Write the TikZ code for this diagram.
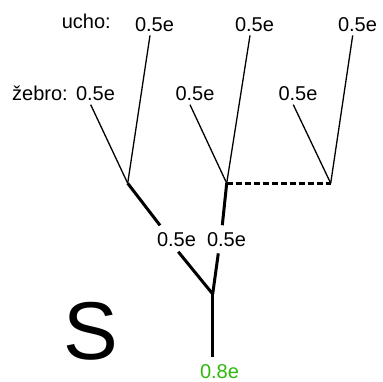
\documentclass[tikz,border=0pt]{standalone}
\usepackage{fontspec}
\setmainfont{Liberation Sans}
\definecolor{lgreen}{RGB}{45,185,10}
\begin{document}
\begin{tikzpicture}[x=1pt,y=-1pt,
  lbl/.style={inner sep=0pt,anchor=base,font=\fontsize{20}{24}\selectfont},
  thin/.style={line width=1.3pt},
  thick/.style={line width=3pt},
  dsh/.style={line width=2.6pt,dash pattern=on 6pt off 3pt}]
\useasboundingbox (0,0) rectangle (383,382);
% top row
\node[lbl,anchor=base east] (ucho) at (111,29) {ucho:};
\node[lbl] (t1) at (154.5,32) {0.5e};
\node[lbl] (t2) at (254.5,32) {0.5e};
\node[lbl] (t3) at (357.5,32) {0.5e};
% second row
\node[lbl,anchor=base west] (zebro) at (12,101) {žebro:};
\node[lbl] (r1) at (95.5,101) {0.5e};
\node[lbl] (r2) at (195,101) {0.5e};
\node[lbl] (r3) at (298,101) {0.5e};
% bottom labels
\node[lbl] (b1) at (176.5,247) {0.5e};
\node[lbl] (b2) at (226.5,247) {0.5e};
\node[lbl,text=lgreen] (g) at (219.5,378) {0.8e};
\node[inner sep=0pt,anchor=base,font=\fontsize{82}{90}\selectfont] (S) at (91,359) {S};
% junctions
\coordinate (j1) at (127.7,183.3);
\coordinate (j2) at (226.7,183.3);
\coordinate (j3) at (330.7,183.3);
\coordinate (j4) at (212.7,294);
% thin branches
\draw[thin] (j1) -- ([shift={(-4.5,3)}]t1.south);
\draw[thin] (j1) -- ([shift={(-4.8,3.3)}]r1.south);
\draw[thin] (j2) -- ([shift={(-4.5,3)}]t2.south);
\draw[thin] (j2) -- ([shift={(-5,3.3)}]r2.south);
\draw[thin] (j3) -- ([shift={(-4.8,3)}]t3.south);
\draw[thin] (j3) -- ([shift={(-4.7,3.3)}]r3.south);
% dashed link
\draw[dsh] (j2) -- (j3);
% thick parts
\draw[thick] (j1) -- ([shift={(-16.5,-7.5)}]b1.north);
\draw[thick] (j2) -- ([shift={(-4.2,-7.6)}]b2.north);
\draw[thick] ([shift={(1.8,4.4)}]b1.south) -- (j4);
\draw[thick] ([shift={(-8.2,6)}]b2.south) -- (j4);
\draw[thick] (j4) -- ([shift={(-6.8,-6.7)}]g.north);
\end{tikzpicture}
\end{document}
